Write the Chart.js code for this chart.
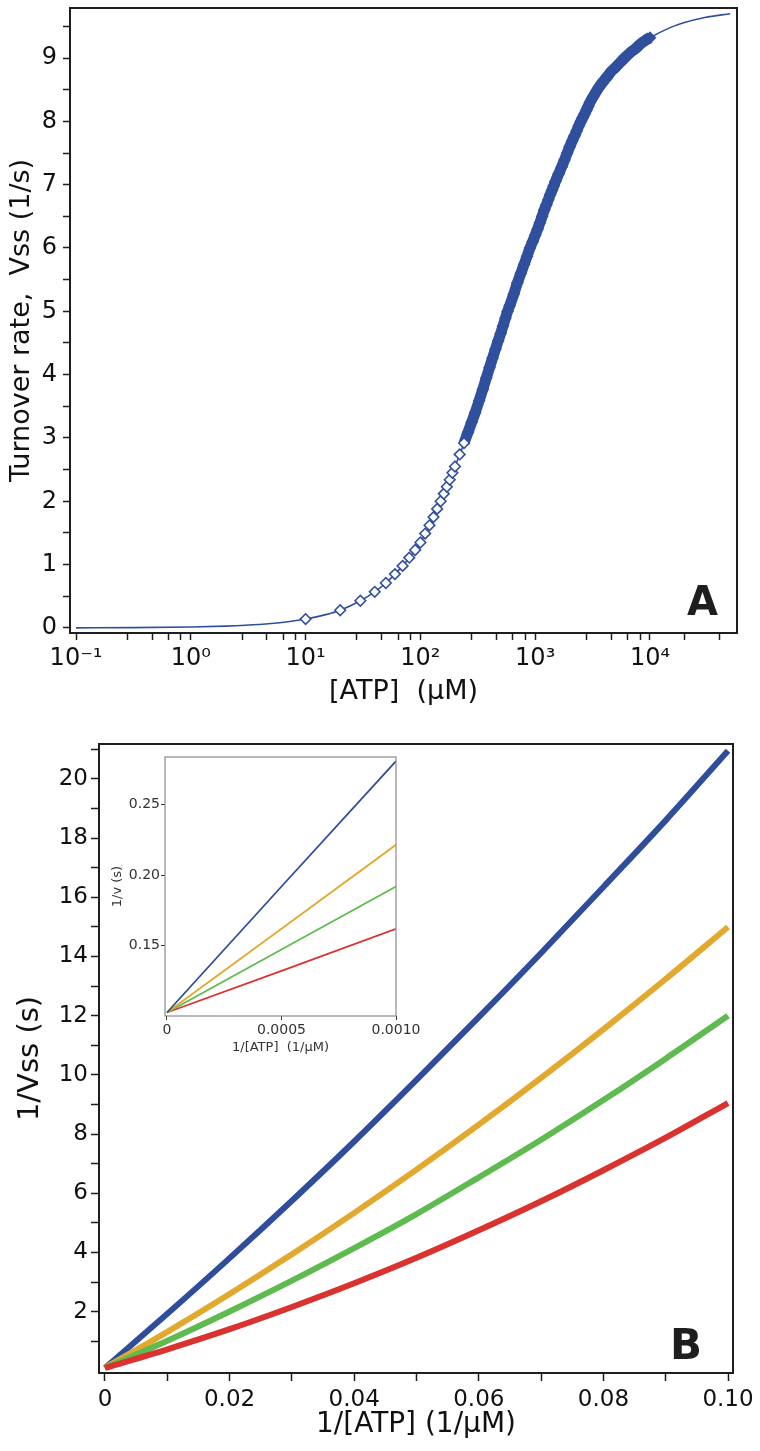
<!DOCTYPE html>
<html>
<head>
<meta charset="utf-8">
<script src="https://cdn.jsdelivr.net/npm/chart.js@4.4.1/dist/chart.umd.min.js"></script>
<style>
  body { margin: 0; background: #fff; width: 760px; height: 1451px; overflow: hidden; position: relative; }
  canvas { position: absolute; display: block; }
  #chartA { left: 0; top: 0; }
  #chartB { left: 0; top: 720px; }
  #inset { left: 100px; top: 745px; }
</style>
</head>
<body>
<canvas id="chartA" width="760" height="720"></canvas>
<canvas id="chartB" width="760" height="731"></canvas>
<canvas id="inset" width="334" height="316"></canvas>
<script>
// Panel A: turnover rate vs [ATP], fitted curve + observed points
const atpFit = [0.1, 0.3, 1, 2, 3, 5, 7, 10, 15, 20, 30, 40, 50, 60, 70, 80, 90, 100, 120, 150, 200, 250, 300, 375, 450, 575, 700, 900, 1100, 1500, 2000, 2500, 3000, 4000, 5000, 6000, 8000, 10000, 15000, 20000, 30000, 50000]
const vssFit = [0.0014, 0.0042, 0.014, 0.028, 0.042, 0.07, 0.098, 0.14, 0.21, 0.28, 0.43, 0.57, 0.71, 0.85, 0.98, 1.11, 1.23, 1.35, 1.62, 2.0, 2.55, 3.0, 3.4, 3.95, 4.4, 5.0, 5.45, 6.0, 6.4, 7.05, 7.6, 8.0, 8.3, 8.65, 8.85, 9.0, 9.2, 9.32, 9.48, 9.56, 9.64, 9.70]

const atpObs = [10, 20, 30, 40, 50, 60, 70, 80, 90, 100, 110, 120, 130, 140, 150, 160, 170, 180, 190, 200,
  220, 240, 260, 280, 300, 325, 350, 375, 400, 425, 450, 475, 500, 525, 550, 575, 600, 650, 700, 750, 800, 850, 900, 950,
  1000, 1050, 1100, 1150, 1200, 1250, 1300, 1350, 1400, 1450, 1500, 1600, 1700, 1800, 1900, 2000, 2100, 2200, 2300, 2400, 2500,
  2600, 2700, 2800, 2900, 3000, 3200, 3400, 3600, 3800, 4000, 4300, 4600, 5000, 5500, 6000, 6500, 7000, 7500, 8000, 8500, 9000, 9500, 10000]
const vssObs = [0.14, 0.28, 0.43, 0.57, 0.71, 0.85, 0.98, 1.11, 1.23, 1.35, 1.49, 1.62, 1.75, 1.88, 2.0, 2.12, 2.23, 2.34, 2.45, 2.55,
  2.74, 2.92, 3.09, 3.25, 3.4, 3.59, 3.77, 3.95, 4.11, 4.26, 4.4, 4.53, 4.65, 4.77, 4.89, 5.0, 5.09, 5.27, 5.45, 5.6, 5.74, 5.87, 6.0, 6.1,
  6.2, 6.3, 6.4, 6.5, 6.6, 6.68, 6.76, 6.84, 6.91, 6.98, 7.05, 7.17, 7.28, 7.39, 7.5, 7.6, 7.69, 7.77, 7.85, 7.93, 8.0,
  8.06, 8.12, 8.18, 8.24, 8.3, 8.39, 8.47, 8.54, 8.6, 8.65, 8.72, 8.79, 8.85, 8.93, 9.0, 9.06, 9.11, 9.15, 9.2, 9.24, 9.27, 9.3, 9.32]

const xTicksA = [0.1, 0.28, 0.46, 0.64, 0.82, 1, 2.8, 4.6, 6.4, 8.2, 10, 28, 46, 64, 82, 100, 280, 460, 640, 820, 1000, 2800, 4600, 6400, 8200, 10000, 20000, 40000]
const xTickLabelsA = ['10⁻¹', '', '', '', '', '10⁰', '', '', '', '', '10¹', '', '', '', '', '10²', '', '', '', '', '10³', '', '', '', '', '10⁴', '', '']
const yTicksA = [0, 0.5, 1, 1.5, 2, 2.5, 3, 3.5, 4, 4.5, 5, 5.5, 6, 6.5, 7, 7.5, 8, 8.5, 9, 9.5]
const yTickLabelsA = ['0', '', '1', '', '2', '', '3', '', '4', '', '5', '', '6', '', '7', '', '8', '', '9', '']

// Panel B: double reciprocal plot, four conditions
const invAtp = [0, 0.01, 0.02, 0.03, 0.04, 0.05, 0.06, 0.07, 0.08, 0.09, 0.1]
const invBlue = [0.102, 1.93, 3.81, 5.75, 7.75, 9.83, 11.95, 14.12, 16.35, 18.6, 20.95]
const invOrange = [0.102, 1.32, 2.6, 3.94, 5.34, 6.8, 8.32, 9.9, 11.54, 13.24, 15.0]
const invGreen = [0.102, 1.02, 2.01, 3.05, 4.15, 5.3, 6.54, 7.81, 9.15, 10.55, 12.0]
const invRed = [0.102, 0.73, 1.41, 2.16, 2.96, 3.82, 4.75, 5.73, 6.78, 7.88, 9.05]

const xTicksB = [0, 0.01, 0.02, 0.03, 0.04, 0.05, 0.06, 0.07, 0.08, 0.09, 0.1]
const xTickLabelsB = ['0', '', '0.02', '', '0.04', '', '0.06', '', '0.08', '', '0.10']
const yTicksB = [1, 2, 3, 4, 5, 6, 7, 8, 9, 10, 11, 12, 13, 14, 15, 16, 17, 18, 19, 20, 21]
const yTickLabelsB = ['', '2', '', '4', '', '6', '', '8', '', '10', '', '12', '', '14', '', '16', '', '18', '', '20', '']

// Inset: low 1/[ATP] range
const invAtpIn = [0, 0.0005, 0.001]
const inBlue = [0.1025, 0.192, 0.281]
const inOrange = [0.1025, 0.162, 0.2216]
const inGreen = [0.1025, 0.1473, 0.192]
const inRed = [0.1025, 0.132, 0.162]

const xTicksIn = [0, 0.0005, 0.001]
const xTickLabelsIn = ['0', '0.0005', '0.0010']
const yTicksIn = [0.15, 0.2, 0.25]
const yTickLabelsIn = ['0.15', '0.20', '0.25']

Chart.defaults.font.family = "'DejaVu Sans', sans-serif"
Chart.defaults.color = '#111'
Chart.defaults.animation = false

const ink = '#1e1e1e'
const blue = '#30509e'
const colors = { blue: '#2f4d9b', orange: '#e2a92e', green: '#5fba50', red: '#da322e' }

const pairs = (xs, ys) => xs.map((x, i) => ({ x, y: ys[i] }))
const fixedTicks = values => scale => { scale.ticks = values.map(v => ({ value: v })) }
// fixed axis sizes, and no extra room kept for the end labels
const fixWidth = w => scale => { scale.width = w; scale.paddingTop = 0; scale.paddingBottom = 0 }
const fixHeight = h => scale => { scale.height = h; scale.paddingLeft = 0; scale.paddingRight = 0 }

// box round the plot area and the panel letter
const frame = {
  id: 'frame',
  afterDatasetsDraw(chart, args, opts) {
    const { ctx, chartArea: a } = chart
    ctx.save()
    ctx.strokeStyle = opts.color
    ctx.lineWidth = opts.width
    ctx.strokeRect(a.left, a.top, a.right - a.left, a.bottom - a.top)
    if (opts.text) {
      ctx.font = opts.font
      ctx.fillStyle = ink
      ctx.textAlign = 'right'
      ctx.textBaseline = 'alphabetic'
      ctx.fillText(opts.text, a.right - opts.dx, a.bottom - opts.dy)
    }
    ctx.restore()
  }
}

function axis(opts) {
  return {
    type: opts.type || 'linear',
    min: opts.min,
    max: opts.max,
    afterBuildTicks: fixedTicks(opts.ticks),
    afterFit: opts.width ? fixWidth(opts.width) : fixHeight(opts.height),
    ticks: {
      autoSkip: false, maxRotation: 0, padding: opts.pad,
      color: opts.color || '#111',
      font: { size: opts.size },
      callback: (v, i) => opts.labels[i]
    },
    grid: { drawOnChartArea: false, tickLength: opts.tl, tickWidth: opts.tw || 1.5, tickColor: opts.color || ink },
    border: { display: false },
    title: { display: true, text: opts.title, color: opts.color || '#111', font: { size: opts.titleSize }, padding: opts.titlePad }
  }
}

const bandPoints = pairs(atpObs, vssObs).filter(p => p.x >= 240)

new Chart(document.getElementById('chartA'), {
  type: 'line',
  data: {
    datasets: [
      { data: pairs(atpFit, vssFit), borderColor: blue, borderWidth: 1.6, pointRadius: 0, cubicInterpolationMode: 'monotone', order: 3 },
      { data: bandPoints, borderColor: blue, borderWidth: 11, pointRadius: 0, borderCapStyle: 'butt', cubicInterpolationMode: 'monotone', order: 2 },
      {
        data: pairs(atpObs, vssObs), showLine: false, pointStyle: 'rectRot', pointRadius: 5.3, pointBorderWidth: 1.6,
        pointBorderColor: blue, pointBackgroundColor: ctx => (ctx.raw && ctx.raw.x >= 250 ? blue : '#fff'), order: 1
      }
    ]
  },
  options: {
    responsive: false,
    layout: { padding: { top: 8, right: 23, left: 0, bottom: 0 } },
    plugins: {
      legend: { display: false },
      tooltip: { enabled: false },
      frame: { color: ink, width: 2, text: 'A', font: 'bold 40px "DejaVu Sans"', dx: 19, dy: 18 }
    },
    scales: {
      x: axis({ type: 'logarithmic', min: 0.0886, max: 57300, ticks: xTicksA, labels: xTickLabelsA, height: 87, pad: 4, size: 24, tl: 7,
        title: '[ATP]  (µM)', titleSize: 27, titlePad: { top: 0, bottom: 12 } }),
      y: axis({ min: -0.08, max: 9.79, ticks: yTicksA, labels: yTickLabelsA, width: 70, pad: 6, size: 24, tl: 7,
        title: 'Turnover rate,  Vss (1/s)', titleSize: 27, titlePad: { top: 6, bottom: 0 } })
    }
  },
  plugins: [frame]
})

const thick = (data, color) => ({ data, borderColor: color, borderWidth: 6, pointRadius: 0, cubicInterpolationMode: 'monotone' })

new Chart(document.getElementById('chartB'), {
  type: 'line',
  data: {
    datasets: [
      thick(pairs(invAtp, invRed), colors.red),
      thick(pairs(invAtp, invGreen), colors.green),
      thick(pairs(invAtp, invOrange), colors.orange),
      thick(pairs(invAtp, invBlue), colors.blue)
    ]
  },
  options: {
    responsive: false,
    layout: { padding: { top: 24, right: 27, left: 0, bottom: 0 } },
    plugins: {
      legend: { display: false },
      tooltip: { enabled: false },
      frame: { color: ink, width: 2, text: 'B', font: 'bold 42px "DejaVu Sans"', dx: 31, dy: 14 }
    },
    scales: {
      x: axis({ min: -0.00096, max: 0.1008, ticks: xTicksB, labels: xTickLabelsB, height: 78, pad: 5, size: 23, tl: 8,
        title: '1/[ATP] (1/µM)', titleSize: 28, titlePad: { top: 0, bottom: 9 } }),
      y: axis({ min: -0.07, max: 21.18, ticks: yTicksB, labels: yTickLabelsB, width: 99, pad: 3, size: 23, tl: 8,
        title: '1/Vss (s)', titleSize: 29, titlePad: { top: 13, bottom: 0 } })
    }
  },
  plugins: [frame]
})

const thin = (data, color) => ({ data, borderColor: color, borderWidth: 1.8, pointRadius: 0 })

new Chart(document.getElementById('inset'), {
  type: 'line',
  data: {
    datasets: [
      thin(pairs(invAtpIn, inBlue), colors.blue),
      thin(pairs(invAtpIn, inOrange), colors.orange),
      thin(pairs(invAtpIn, inGreen), colors.green),
      thin(pairs(invAtpIn, inRed), colors.red)
    ]
  },
  options: {
    responsive: false,
    layout: { padding: { top: 12, right: 38, left: 0, bottom: 0 } },
    plugins: {
      legend: { display: false },
      tooltip: { enabled: false },
      frame: { color: '#8a8a8a', width: 1.2 }
    },
    scales: {
      x: axis({ min: -0.0000087, max: 0.001, ticks: xTicksIn, labels: xTickLabelsIn, height: 45, pad: 2, size: 14, tl: 4, tw: 1, color: '#333',
        title: '1/[ATP]  (1/µM)', titleSize: 13, titlePad: { top: 0, bottom: 6 } }),
      y: axis({ min: 0.1, max: 0.284, ticks: yTicksIn, labels: yTickLabelsIn, width: 65, pad: 1, size: 14, tl: 4, tw: 1, color: '#333',
        title: '1/v (s)', titleSize: 13, titlePad: { top: 10, bottom: 0 } })
    }
  },
  plugins: [frame]
})
</script>
</body>
</html>
